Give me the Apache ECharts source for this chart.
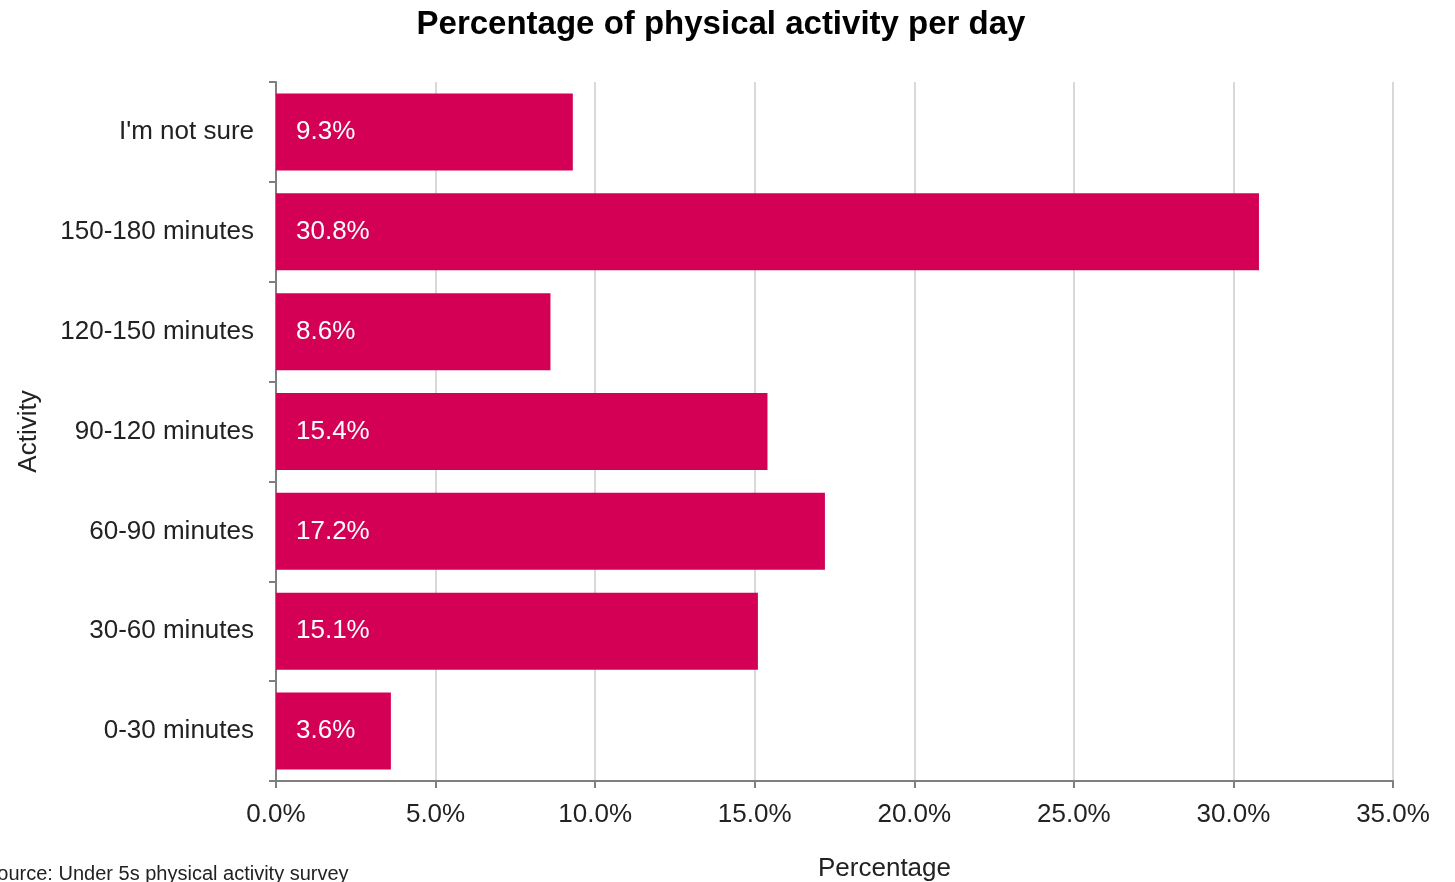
<!DOCTYPE html>
<html>
<head>
<meta charset="utf-8">
<script src="https://cdn.jsdelivr.net/npm/echarts@6/dist/echarts.min.js"></script>
<style>
  html, body { margin: 0; padding: 0; background: #ffffff; }
  #chart { width: 1455px; height: 882px; }
</style>
</head>
<body>
<div id="chart"></div>
<script>
// Activity bands, listed bottom to top
const categories = ['0-30 minutes', '30-60 minutes', '60-90 minutes', '90-120 minutes', '120-150 minutes', '150-180 minutes', "I'm not sure"];
// Share of respondents (%)
const percentages = [3.6, 15.1, 17.2, 15.4, 8.6, 30.8, 9.3];

const titleText = 'Percentage of physical activity per day';
const sourceText = 'Source: Under 5s physical activity survey';
const font = 'Liberation Sans, Arial, sans-serif';

const chart = echarts.init(document.getElementById('chart'), null, { renderer: 'canvas' });

chart.setOption({
  animation: false,
  backgroundColor: '#ffffff',
  title: {
    text: titleText,
    left: 716,
    textAlign: 'center',
    top: 3,
    textStyle: { fontFamily: font, fontSize: 33, fontWeight: 'bold', color: '#000000' }
  },
  grid: { left: 276, right: 62, top: 82, bottom: 101, containLabel: false, outerBoundsMode: 'none' },
  xAxis: {
    type: 'value',
    min: 0,
    max: 35,
    interval: 5,
    name: 'Percentage',
    nameLocation: 'middle',
    nameGap: 75,
    nameTextStyle: { fontFamily: font, fontSize: 26, color: '#222222', padding: [0, 0, 0, 100] },
    axisLine: { show: true, lineStyle: { color: '#7f7f7f', width: 2 } },
    axisTick: { show: true, length: 7, lineStyle: { color: '#7f7f7f', width: 2 } },
    axisLabel: {
      fontFamily: font, fontSize: 26, color: '#222222', margin: 21,
      formatter: v => v.toFixed(1) + '%'
    },
    splitLine: { show: true, lineStyle: { color: '#d9d9d9', width: 2 } }
  },
  yAxis: {
    type: 'category',
    data: categories,
    name: 'Activity',
    nameLocation: 'middle',
    nameGap: 234,
    nameRotate: 90,
    nameTextStyle: { fontFamily: font, fontSize: 26, color: '#222222' },
    axisLine: { show: true, lineStyle: { color: '#7f7f7f', width: 2 } },
    axisTick: { show: true, length: 7, lineStyle: { color: '#7f7f7f', width: 2 } },
    axisLabel: { fontFamily: font, fontSize: 26, color: '#222222', margin: 22 },
    splitLine: { show: false }
  },
  series: [{
    type: 'bar',
    data: percentages,
    barWidth: 77,
    itemStyle: { color: '#d40055' },
    label: {
      show: true,
      position: 'insideLeft',
      distance: 20,
      fontFamily: font,
      fontSize: 26,
      color: '#ffffff',
      formatter: p => p.value.toFixed(1) + '%'
    }
  }],
  graphic: [{
    type: 'text',
    left: -16,
    top: 864,
    style: { text: sourceText, fontFamily: font, fontSize: 20, fill: '#222222' }
  }]
});
</script>
</body>
</html>
